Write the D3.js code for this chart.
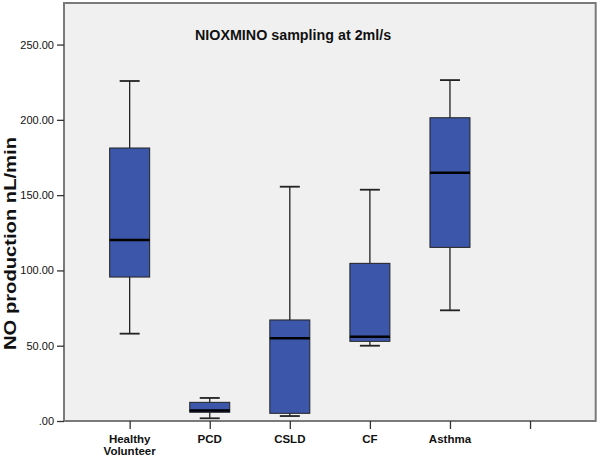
<!DOCTYPE html>
<html><head><meta charset="utf-8">
<script src="https://cdn.jsdelivr.net/npm/d3@7"></script>
<style>body{margin:0;background:#fff}svg{display:block}</style>
</head><body><svg id="c" width="600" height="458"></svg>
<script>
const categories = ["Healthy\nVolunteer","PCD","CSLD","CF","Asthma",""];
const whiskerLow  = [58.0, 1.8, 3.3, 50.0, 73.5];
const q1          = [95.6, 5.8, 5.1, 52.9, 115.3];
const median      = [120.2, 6.9, 54.9, 56.0, 164.9];
const q3          = [181.3, 12.4, 67.1, 104.7, 201.4];
const whiskerHigh = [225.8, 15.3, 155.6, 153.6, 226.4];
const yTicks = [0, 50, 100, 150, 200, 250];
const title = "NIOXMINO sampling at 2ml/s";
const yLabel = "NO production nL/min";

const svg = d3.select("#c");
const L = 64, R = 595.7, T = 3, B = 421;
const x = d3.scalePoint().domain(categories).range([L, R]).padding(0.82);
const y = d3.scaleLinear().domain([0, 277.6]).range([B, T]);

svg.append("rect").attr("x", L).attr("y", T).attr("width", R - L).attr("height", B - T)
  .attr("fill", "#f0f0f0").attr("stroke", "#7a7a7a").attr("stroke-width", 2);

const boxW = 40, capW = 20;
const data = categories.slice(0,5).map((c,i)=>({c, lo:whiskerLow[i], q1:q1[i], md:median[i], q3:q3[i], hi:whiskerHigh[i]}));
const g = svg.append("g");
data.forEach(d=>{
  const cx = x(d.c);
  g.append("line").attr("x1",cx).attr("x2",cx).attr("y1",y(d.hi)).attr("y2",y(d.q3)).attr("stroke","#222").attr("stroke-width",1.3);
  g.append("line").attr("x1",cx).attr("x2",cx).attr("y1",y(d.q1)).attr("y2",y(d.lo)).attr("stroke","#222").attr("stroke-width",1.3);
  g.append("line").attr("x1",cx-capW/2).attr("x2",cx+capW/2).attr("y1",y(d.hi)).attr("y2",y(d.hi)).attr("stroke","#222").attr("stroke-width",1.8);
  g.append("line").attr("x1",cx-capW/2).attr("x2",cx+capW/2).attr("y1",y(d.lo)).attr("y2",y(d.lo)).attr("stroke","#222").attr("stroke-width",1.8);
  g.append("rect").attr("x",cx-boxW/2).attr("width",boxW).attr("y",y(d.q3)).attr("height",y(d.q1)-y(d.q3))
    .attr("fill","#3c56a9").attr("stroke","#222").attr("stroke-width",1);
  g.append("line").attr("x1",cx-boxW/2).attr("x2",cx+boxW/2).attr("y1",y(d.md)).attr("y2",y(d.md)).attr("stroke","#000").attr("stroke-width",2.5);
});

// y axis
const ya = svg.append("g").attr("transform",`translate(${L},0)`)
  .call(d3.axisLeft(y).tickValues(yTicks).tickSize(7).tickPadding(3).tickFormat(d=> d===0 ? ".00" : d3.format(".2f")(d)));
ya.select(".domain").remove();
ya.selectAll("line").attr("stroke","#333").attr("stroke-width",1.3);
ya.selectAll("text").attr("font-family","Arial, 'Liberation Sans', sans-serif").attr("font-size",11).attr("fill","#111");

// x axis
const xa = svg.append("g").attr("transform",`translate(0,${B})`)
  .call(d3.axisBottom(x).tickSize(8).tickFormat(""));
xa.select(".domain").remove();
xa.selectAll("line").attr("stroke","#333").attr("stroke-width",1.3);
categories.forEach(c=>{
  const lines = c.split("\n");
  const t = svg.append("text").attr("x", x(c)).attr("y", 442.7).attr("text-anchor","middle")
    .attr("font-family","Arial, 'Liberation Sans', sans-serif").attr("font-weight","bold").attr("font-size",11.5).attr("fill","#111");
  lines.forEach((l,i)=> t.append("tspan").attr("x", x(c)).attr("dy", i===0?0:12.3).text(l));
});

svg.append("text").attr("x",195).attr("y",40).attr("font-family","Arial, 'Liberation Sans', sans-serif")
  .attr("font-weight","bold").attr("font-size",14.3).attr("fill","#111").text(title);

svg.append("text").attr("transform","translate(16,243.5) rotate(-90)").attr("text-anchor","middle")
  .attr("font-family","Arial, 'Liberation Sans', sans-serif").attr("font-weight","bold").attr("font-size",17)
  .attr("textLength",213).attr("lengthAdjust","spacingAndGlyphs").attr("fill","#111").text(yLabel);
</script></body></html>
